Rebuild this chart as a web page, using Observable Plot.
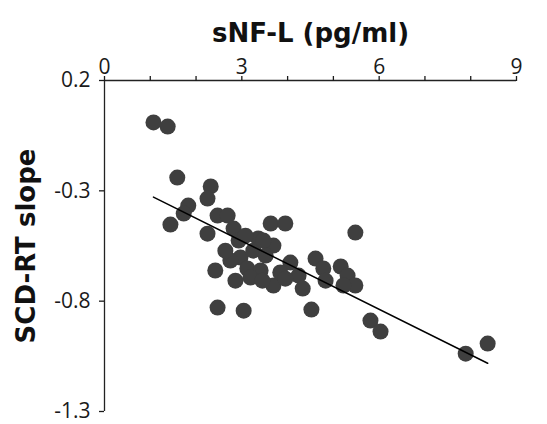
<!DOCTYPE html>
<html>
<head>
<meta charset="utf-8">
<script src="https://cdn.jsdelivr.net/npm/d3@7"></script>
<script src="https://cdn.jsdelivr.net/npm/@observablehq/plot@0.6"></script>
<style>
  html, body { margin: 0; padding: 0; background: #fff; }
</style>
</head>
<body>
<div id="chart"></div>
<script>
// sNF-L (pg/ml) values, x
const sNFL = [1.07, 1.38, 1.59, 1.44, 2.32, 2.25, 1.83, 1.73, 2.47, 2.69,
  2.25, 2.82, 2.93, 3.36, 3.69, 3.63, 3.95, 5.48, 2.42, 2.97,
  3.12, 2.86, 3.41, 3.69, 4.06, 4.24, 4.33, 4.61, 4.78, 4.83,
  5.16, 5.31, 5.48, 5.22, 2.47, 3.04, 4.52, 5.81, 6.03, 7.89,
  8.37, 3.25, 2.75, 3.19, 3.47, 3.84, 3.08, 3.52, 2.64, 3.95, 3.45];
// SCD-RT slope values, y
const slope = [0.010, -0.009, -0.240, -0.453, -0.280, -0.335, -0.367, -0.403, -0.412, -0.412,
  -0.494, -0.471, -0.525, -0.516, -0.548, -0.448, -0.448, -0.489, -0.661, -0.602,
  -0.652, -0.707, -0.661, -0.729, -0.625, -0.684, -0.743, -0.607, -0.652, -0.707,
  -0.643, -0.684, -0.729, -0.729, -0.829, -0.843, -0.838, -0.888, -0.938, -1.038,
  -0.992, -0.571, -0.616, -0.693, -0.525, -0.670, -0.503, -0.593, -0.571, -0.698, -0.707];

const xTicks = [0, 1, 2, 3, 4, 5, 6, 7, 8, 9];
const xLabeled = [0, 3, 6, 9];
const yTicks = [0.2, -0.3, -0.8, -1.3];
const xTitle = "sNF-L (pg/ml)";
const yTitle = "SCD-RT slope";

const data = sNFL.map((x, i) => ({x, y: slope[i]}));

const titleFont = "'DejaVu Sans', Verdana, sans-serif";
const tickFont = "'Open Sans', sans-serif";

const chart = Plot.plot({
  width: 547,
  height: 424,
  marginLeft: 104,
  marginRight: 31,
  marginTop: 80,
  marginBottom: 13,
  style: {fontFamily: tickFont, color: "#1a1a1a", background: "#fff"},
  x: {domain: [0, 9]},
  y: {domain: [-1.3, 0.2]},
  marks: [
    Plot.ruleY([0.2], {x1: 0, x2: 9, stroke: "#222", strokeWidth: 1.3}),
    Plot.ruleX([0], {y1: -1.3, y2: 0.2, stroke: "#222", strokeWidth: 1.3}),
    Plot.axisX({anchor: "top", ticks: xTicks, tickFormat: d => xLabeled.includes(d) ? String(d) : "", tickSize: 5, tickPadding: 2, label: null, strokeWidth: 1.3, fontSize: 21, fontFamily: tickFont}),
    Plot.axisY({anchor: "left", ticks: yTicks, tickFormat: d => d.toFixed(1), tickSize: 5, tickPadding: 9, label: null, strokeWidth: 1.3, fontSize: 21, fontFamily: tickFont}),
    Plot.dot(data, {x: "x", y: "y", r: 8, fill: "#3f3f3f", stroke: null}),
    Plot.linearRegressionY(data, {x: "x", y: "y", stroke: "#000", strokeWidth: 1.5, ci: 0}),
    Plot.text([xTitle], {frameAnchor: "top", dy: -57, fontFamily: titleFont, fontWeight: "bold", fontSize: 26, fill: "#111"}),
    Plot.text([yTitle], {frameAnchor: "left", textAnchor: "middle", dx: -78, rotate: -90, fontFamily: titleFont, fontWeight: "bold", fontSize: 26, fill: "#111"})
  ]
});

document.getElementById("chart").appendChild(chart);
</script>
</body>
</html>
